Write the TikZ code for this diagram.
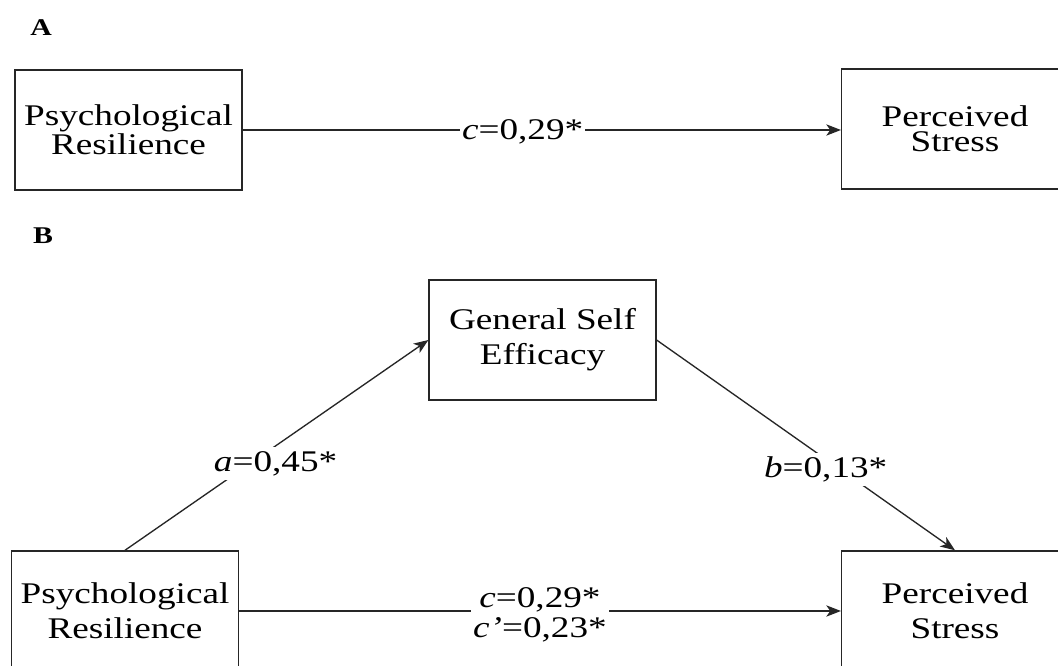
\documentclass[tikz,border=0pt]{standalone}
\usepackage{fontspec}
\setmainfont{Liberation Serif}[FakeStretch=1.24]
\usetikzlibrary{arrows.meta}
\begin{document}
\begin{tikzpicture}[x=0.75pt,y=-0.75pt,
  box/.style={draw=black!85, line width=1.1pt, minimum width=170pt, minimum height=90pt, inner sep=0pt, align=center},
  tight/.style={font=\fontsize{22.5}{19}\selectfont},
  loose/.style={font=\fontsize{22.5}{26}\selectfont},
  arr/.style={draw=black!85, line width=1pt, -{Stealth[length=11pt,width=8.5pt,inset=3pt]}},
  lab/.style={fill=white, inner xsep=1.5pt, inner ysep=3pt, align=center, font=\fontsize{22.5}{22.5}\selectfont},
  panel/.style={font=\fontsize{18}{18}\selectfont\bfseries}
]
\useasboundingbox (0,0) rectangle (1058,666);
\clip (0,0) rectangle (1058,666);
\fill[white] (0,0) rectangle (1058,666);

\node[panel] (pA) at (41,28) {A};
\node[panel] (pB) at (43,236) {B};

\node[box, tight] (pr1) at (128.5,130) {Psychological\\Resilience};
\node[box, tight] (ps1) at (955,129) {Perceived\\Stress};

\node[box, loose] (gse) at (542.5,340) {General Self\\Efficacy};
\node[box, loose] (pr2) at (125,611) {Psychological\\Resilience};
\node[box, loose] (ps2) at (955,611) {Perceived\\Stress};

\draw[arr] (pr1.east) -- node[lab, pos=0.468, yshift=-1.5pt] {\textit{c}=0,29*} (ps1.west |- pr1.east);
\draw[arr] (pr2.east) -- node[lab, pos=0.5, yshift=-2.5pt] {\textit{c}=0,29*\\\textit{c'}=0,23*} (ps2.west);
\draw[arr] (pr2.north) -- node[lab, pos=0.426, xshift=16pt, yshift=-2pt] {\textit{a}=0,45*} (gse.west);
\draw[arr] (gse.east) -- node[lab, pos=0.598, xshift=-7pt, yshift=-3pt] {\textit{b}=0,13*} (ps2.north);
\end{tikzpicture}
\end{document}
